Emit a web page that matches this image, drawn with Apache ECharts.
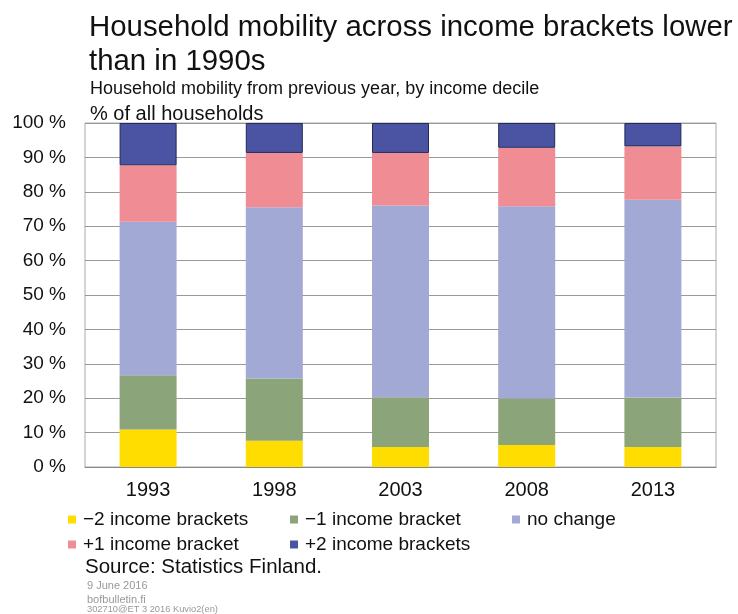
<!DOCTYPE html>
<html>
<head>
<meta charset="utf-8">
<script src="https://cdn.jsdelivr.net/npm/echarts@6/dist/echarts.min.js"></script>
<style>html,body{margin:0;padding:0;background:#fff}#c{width:738px;height:614px}</style>
</head>
<body>
<div id="c"></div>
<script>
const categories = ['1993', '1998', '2003', '2008', '2013'];
const minus2 = [10.9, 7.6, 5.8, 6.4, 5.8];
const minus1 = [15.8, 18.1, 14.5, 13.5, 14.4];
const noChange = [44.6, 49.8, 55.7, 55.9, 57.5];
const plus1 = [16.4, 15.8, 15.3, 17.0, 15.5];
const plus2 = [12.3, 8.7, 8.7, 7.2, 6.8];
const yTicks = [0, 10, 20, 30, 40, 50, 60, 70, 80, 90, 100];

const F = 'Liberation Sans, Arial, sans-serif';
const chart = echarts.init(document.getElementById('c'), null, {renderer: 'canvas'});
const names = ['\u22122 income brackets', '\u22121 income bracket', 'no change', '+1 income bracket', '+2 income brackets'];
const colors = ['#FFDD00', '#8BA47A', '#A3A9D5', '#F08C93', '#4B54A2'];
const vals = [minus2, minus1, noChange, plus1, plus2];
const legendPos = [[63, 505], [285, 505], [507, 505], [63, 530], [285, 530]];

chart.setOption({
  animation: false,
  title: [
    {text: 'Household mobility across income brackets lower\nthan in 1990s', left: 84, top: 6,
     textStyle: {fontFamily: F, fontSize: 29.4, fontWeight: 'normal', color: '#111', lineHeight: 34}},
    {text: 'Household mobility from previous year, by income decile', left: 85, top: 75,
     textStyle: {fontFamily: F, fontSize: 18, fontWeight: 'normal', color: '#111'}},
    {text: '% of all households', left: 85, top: 99,
     textStyle: {fontFamily: F, fontSize: 20, fontWeight: 'normal', color: '#111'}},
    {text: 'Source: Statistics Finland.', left: 80, top: 552,
     textStyle: {fontFamily: F, fontSize: 20.5, fontWeight: 'normal', color: '#111'}},
    {text: '9 June 2016\nbofbulletin.fi', left: 82, top: 574,
     textStyle: {fontFamily: F, fontSize: 11, fontWeight: 'normal', color: '#999', lineHeight: 14}},
    {text: '302710@ET 3 2016 Kuvio2(en)', left: 82, top: 600,
     textStyle: {fontFamily: F, fontSize: 9.3, fontWeight: 'normal', color: '#999'}}
  ],
  legend: names.map((n, i) => ({
    left: legendPos[i][0], top: legendPos[i][1], itemWidth: 8, itemHeight: 8, icon: 'rect',
    data: [n], textStyle: {fontFamily: F, fontSize: 19, color: '#111', padding: [0, 0, 0, 2]},
    itemStyle: {borderWidth: 0}
  })),
  grid: {left: 85, right: 22, top: 123, bottom: 147, show: true, borderColor: '#aaa', borderWidth: 1},
  xAxis: {
    type: 'category', data: categories,
    axisLine: {lineStyle: {color: '#888'}}, axisTick: {show: false},
    axisLabel: {fontFamily: F, fontSize: 20, color: '#111', margin: 13}
  },
  yAxis: {
    type: 'value', min: 0, max: 100, interval: 10,
    axisLine: {show: false}, axisTick: {show: false},
    axisLabel: {fontFamily: F, fontSize: 19, color: '#111', margin: 19,
      formatter: v => yTicks.includes(v) ? v + ' %' : ''},
    splitLine: {lineStyle: {color: '#999', width: 1}}
  },
  series: vals.map((d, i) => ({
    name: names[i], type: 'bar', stack: 'a', data: d, barWidth: 57,
    itemStyle: {color: colors[i], borderColor: i === 4 ? '#222a55' : colors[i], borderWidth: i === 4 ? 1 : 0}
  }))
});
</script>
</body>
</html>
